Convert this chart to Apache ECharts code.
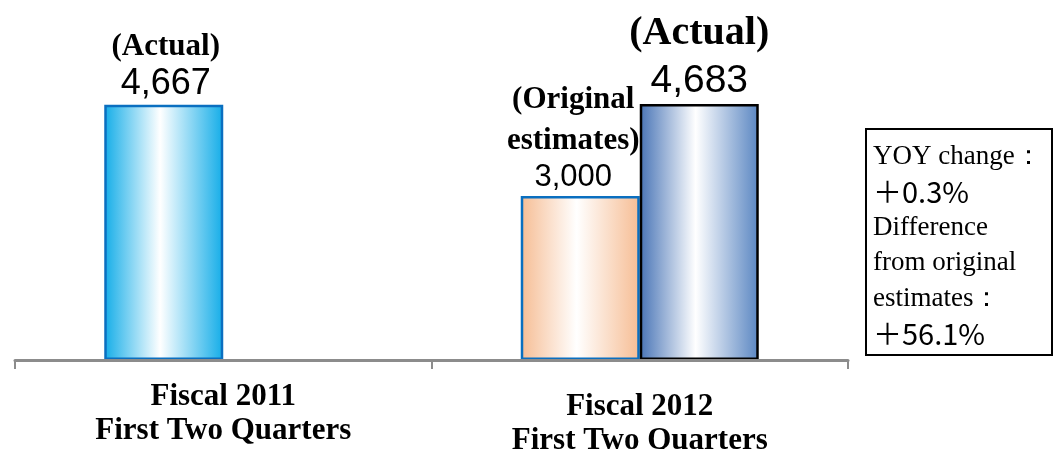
<!DOCTYPE html>
<html>
<head>
<meta charset="utf-8">
<script src="https://cdn.jsdelivr.net/npm/echarts@6/dist/echarts.min.js"></script>
<style>
  html, body { margin: 0; padding: 0; background: #ffffff; }
  #chart { width: 1054px; height: 449px; }
</style>
</head>
<body>
<div id="chart"></div>
<script>
// Sales, first two quarters (millions of yen)
const categories = ['Fiscal 2011\nFirst Two Quarters', 'Fiscal 2012\nFirst Two Quarters'];
const leftSlotValues = [4667, 3000];   // FY2011 actual, FY2012 original estimate
const rightSlotValues = [null, 4683];  // FY2012 actual
const leftSlotTags = ['(Actual)', '(Original\nestimates)'];
const rightSlotTags = [null, '(Actual)'];
const noteLines = [
  ['s', 'YOY change：'],
  ['n', '＋0.3%'],
  ['s', 'Difference'],
  ['s', 'from original'],
  ['s', 'estimates：'],
  ['n', '＋56.1%']
];

const SERIF = '"Liberation Serif", "Times New Roman", serif';
const SANS = '"Liberation Sans", Arial, "Noto Sans CJK JP", sans-serif';

function hGrad(edge, edge2) {
  return {
    type: 'linear', x: 0, y: 0, x2: 1, y2: 0,
    colorStops: [
      { offset: 0, color: edge },
      { offset: 0.47, color: '#ffffff' },
      { offset: 1, color: edge2 || edge }
    ]
  };
}

const fmt = v => Number(v).toLocaleString('en-US');

const chart = echarts.init(document.getElementById('chart'));

const leftData = leftSlotValues.map((v, i) => {
  const tag = leftSlotTags[i];
  const tagLines = tag.split('\n').map(t => '{p|' + t + '}').join('\n');
  if (i === 0) {
    return {
      value: v,
      itemStyle: { color: hGrad('#14ade8'), borderColor: '#0a6fc0', borderWidth: 2.5 },
      label: {
        show: true, position: 'top', distance: 3, offset: [2, 0],
        formatter: p => tagLines + '\n{v|' + fmt(p.value) + '}',
        rich: {
          p: { fontFamily: SERIF, fontWeight: 'bold', fontSize: 31, lineHeight: 38, color: '#000' },
          v: { fontFamily: SANS, fontSize: 36, lineHeight: 36, color: '#000' }
        }
      }
    };
  }
  return {
    value: v,
    itemStyle: { color: hGrad('#f6bd94'), borderColor: '#0a6fc0', borderWidth: 2.5 },
    label: {
      show: true, position: 'top', distance: 3, offset: [-7, 0],
      formatter: p => tagLines + '\n{v|' + fmt(p.value) + '}',
      rich: {
        p: { fontFamily: SERIF, fontWeight: 'bold', fontSize: 31, lineHeight: 41, color: '#000' },
        v: { fontFamily: SANS, fontSize: 31, lineHeight: 32, color: '#000' }
      }
    }
  };
});

const rightData = rightSlotValues.map((v, i) => {
  if (v == null) return '-';
  return {
    value: v,
    itemStyle: { color: hGrad('#4874b6', '#5a86c2'), borderColor: '#000000', borderWidth: 2.5 },
    label: {
      show: true, position: 'top', distance: 3,
      formatter: p => '{p|' + rightSlotTags[i] + '}\n{v|' + fmt(p.value) + '}',
      rich: {
        p: { fontFamily: SERIF, fontWeight: 'bold', fontSize: 40, lineHeight: 54, color: '#000' },
        v: { fontFamily: SANS, fontSize: 39, lineHeight: 40, color: '#000' }
      }
    }
  };
});

const catText = { fontFamily: SERIF, fontWeight: 'bold', fontSize: 31, lineHeight: 34, color: '#000' };

chart.setOption({
  animation: false,
  backgroundColor: '#ffffff',
  grid: { left: 15, right: 206, top: 32, bottom: 89, containLabel: false, outerBoundsMode: 'none' },
  xAxis: {
    type: 'category',
    data: categories,
    z: 5,
    axisLine: { show: true, lineStyle: { color: '#8c8c8c', width: 3 } },
    axisTick: { show: true, length: 9, lineStyle: { color: '#8c8c8c', width: 2 } },
    axisLabel: {
      margin: 20,
      formatter: (val, idx) => {
        const lines = val.split('\n');
        const body = '{t|' + lines[0] + '}\n{t|' + lines[1] + '}';
        return idx === 0 ? body : '{sp| }\n' + body;
      },
      rich: {
        t: catText,
        sp: { fontSize: 1, lineHeight: 10 }
      }
    }
  },
  yAxis: {
    type: 'value', min: 0, max: 6000, show: false,
    splitLine: { show: false }
  },
  series: [
    { type: 'bar', data: leftData, barWidth: 119, barGap: '0%', z: 2 },
    { type: 'bar', data: rightData, barWidth: 119, barGap: '0%', z: 2 }
  ],
  graphic: [
    {
      type: 'rect',
      shape: { x: 866, y: 129, width: 186, height: 226 },
      style: { fill: '#ffffff', stroke: '#000000', lineWidth: 2 }
    },
    {
      type: 'text',
      left: 873, top: 143,
      style: {
        text: noteLines.map(l => '{' + l[0] + '|' + l[1] + '}').join('\n'),
        rich: {
          s: { fontFamily: SERIF, fontSize: 27, lineHeight: 35.5, fill: '#000' },
          n: { fontFamily: '"Noto Sans CJK JP", "Liberation Sans", sans-serif', fontSize: 29, lineHeight: 35.5, fill: '#000' }
        }
      }
    }
  ]
});
</script>
</body>
</html>
